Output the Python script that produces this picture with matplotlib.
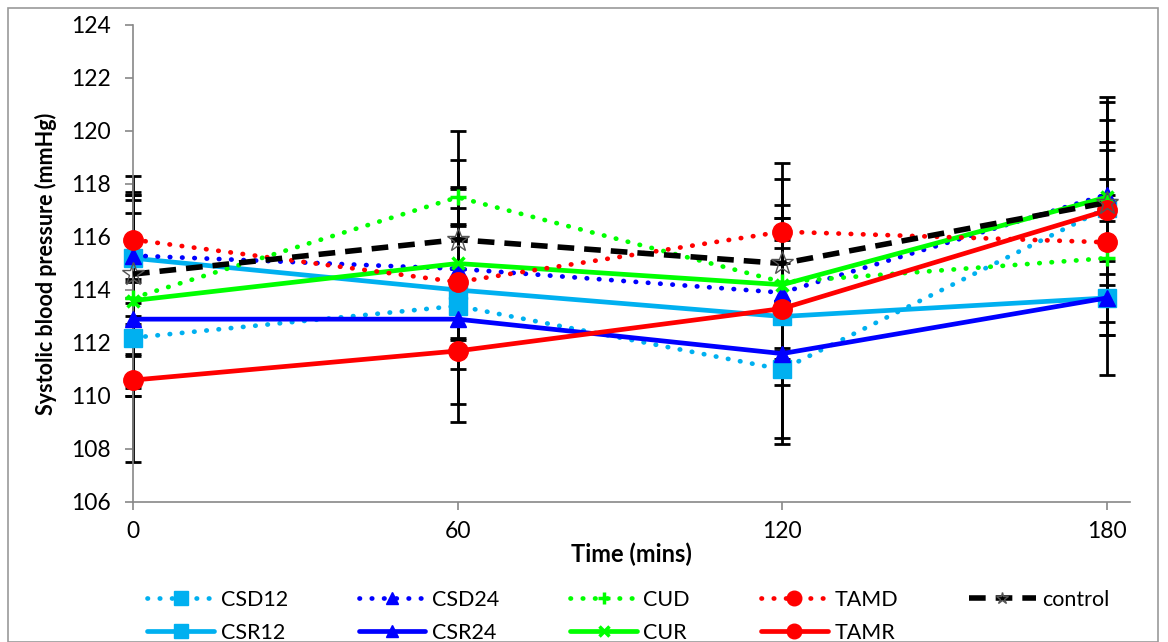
import matplotlib

matplotlib.use("Agg")
import matplotlib.pyplot as plt
from matplotlib.patches import Rectangle

plt.rcParams["font.family"] = ["Lato", "DejaVu Sans"]

time = [0, 60, 120, 180]

# mean systolic BP (mmHg) and error (+/-) per group
csd12 = [112.2, 113.4, 111.0, 117.1]
csd12_err = [2.2, 3.7, 2.6, 2.5]
csr12 = [115.2, 114.0, 113.0, 113.7]
csr12_err = [2.5, 2.4, 2.6, 1.4]
csd24 = [115.3, 114.8, 113.9, 117.6]
csd24_err = [2.3, 3.1, 2.8, 3.7]
csr24 = [112.9, 112.9, 111.6, 113.7]
csr24_err = [1.4, 1.9, 3.4, 2.9]
cud = [113.7, 117.5, 114.3, 115.2]
cud_err = [3.7, 2.5, 2.9, 2.4]
cur = [113.6, 115.0, 114.2, 117.5]
cur_err = [3.3, 2.8, 2.5, 3.6]
tamd = [115.9, 114.3, 116.2, 115.8]
tamd_err = [2.4, 2.2, 2.6, 3.5]
tamr = [110.6, 111.7, 113.3, 117.0]
tamr_err = [3.1, 2.7, 2.6, 1.2]
control = [114.6, 115.9, 115.0, 117.3]
control_err = [3.0, 3.0, 3.2, 3.1]

LBLUE, BLUE, GREEN, RED = "#00B0F0", "#0000FF", "#00FF00", "#FF0000"
DOT = (0, (0.1, 2.5))

series = [
    ("CSD12", csd12, csd12_err, LBLUE, DOT, "s", 13),
    ("CSR12", csr12, csr12_err, LBLUE, "-", "s", 13),
    ("CSD24", csd24, csd24_err, BLUE, DOT, "^", 11),
    ("CSR24", csr24, csr24_err, BLUE, "-", "^", 11),
    ("CUD", cud, cud_err, GREEN, DOT, "+", 11),
    ("CUR", cur, cur_err, GREEN, "-", "x", 9),
    ("TAMD", tamd, tamd_err, RED, DOT, "o", 14),
    ("TAMR", tamr, tamr_err, RED, "-", "o", 14),
]

fig = plt.figure(figsize=(11.68, 6.42), dpi=100)
ax = fig.add_axes([133 / 1168, 1 - 502 / 642, (1130 - 133) / 1168, (502 - 25) / 642])

# error bars first, behind the lines
for name, y, e, *_ in series + [("control", control, control_err)]:
    eb = ax.errorbar(time, y, yerr=e, fmt="none", ecolor="black", elinewidth=2,
                     capsize=6, capthick=2, zorder=2)
    for art in eb.lines[1] + eb.lines[2]:
        art.set_clip_on(False)

handles = []
for name, y, e, color, ls, mk, ms in series:
    h, = ax.plot(time, y, color=color, ls=ls, lw=3.4, marker=mk, ms=ms,
                 mew=2.5 if mk in "+x" else 1, mfc=color, mec=color,
                 dash_capstyle="round", solid_capstyle="round", zorder=3,
                 label=name, clip_on=False)
    handles.append(h)

h, = ax.plot(time, control, color="black", ls=(0, (3, 1.8)), lw=4, marker="*",
             ms=17, mfc="none", mec="#555555", mew=1, zorder=3, label="control",
             clip_on=False)
handles.append(h)

ax.set_xlim(0, 184.3)
ax.set_ylim(106, 124)
ax.set_xticks(time)
ax.set_yticks(range(106, 125, 2))
for s in ["top", "right"]:
    ax.spines[s].set_visible(False)
for s in ["left", "bottom"]:
    ax.spines[s].set_color("#888888")
    ax.spines[s].set_linewidth(1.2)
ax.tick_params(axis="both", colors="#888888", labelcolor="black", labelsize=16.5,
               length=6, width=1.2)
ax.tick_params(axis="x", pad=8)
ax.tick_params(axis="y", pad=10)
ax.set_xlabel("Time (mins)", fontsize=17, fontweight="bold", labelpad=0)
ax.set_ylabel("Systolic blood pressure (mmHg)", fontsize=15.5, fontweight="bold",
              labelpad=10)

# legend: two rows, Excel-style ordering
leg = fig.legend(handles=handles, ncol=5, loc="lower left",
                 bbox_to_anchor=(128 / 1168, -0.031), frameon=False, fontsize=15.5,
                 handlelength=3.1, columnspacing=3.3, handletextpad=0.3,
                 labelspacing=0.6, markerscale=0.75)
leg.legend_handles[-1].set_markersize(9)

fig.patches.append(Rectangle((8 / 1168, 0), 1150 / 1168, 1 - 8 / 642,
                             transform=fig.transFigure, fill=False,
                             edgecolor="#999999", lw=1.2))

fig.savefig("out.png", dpi=100)
